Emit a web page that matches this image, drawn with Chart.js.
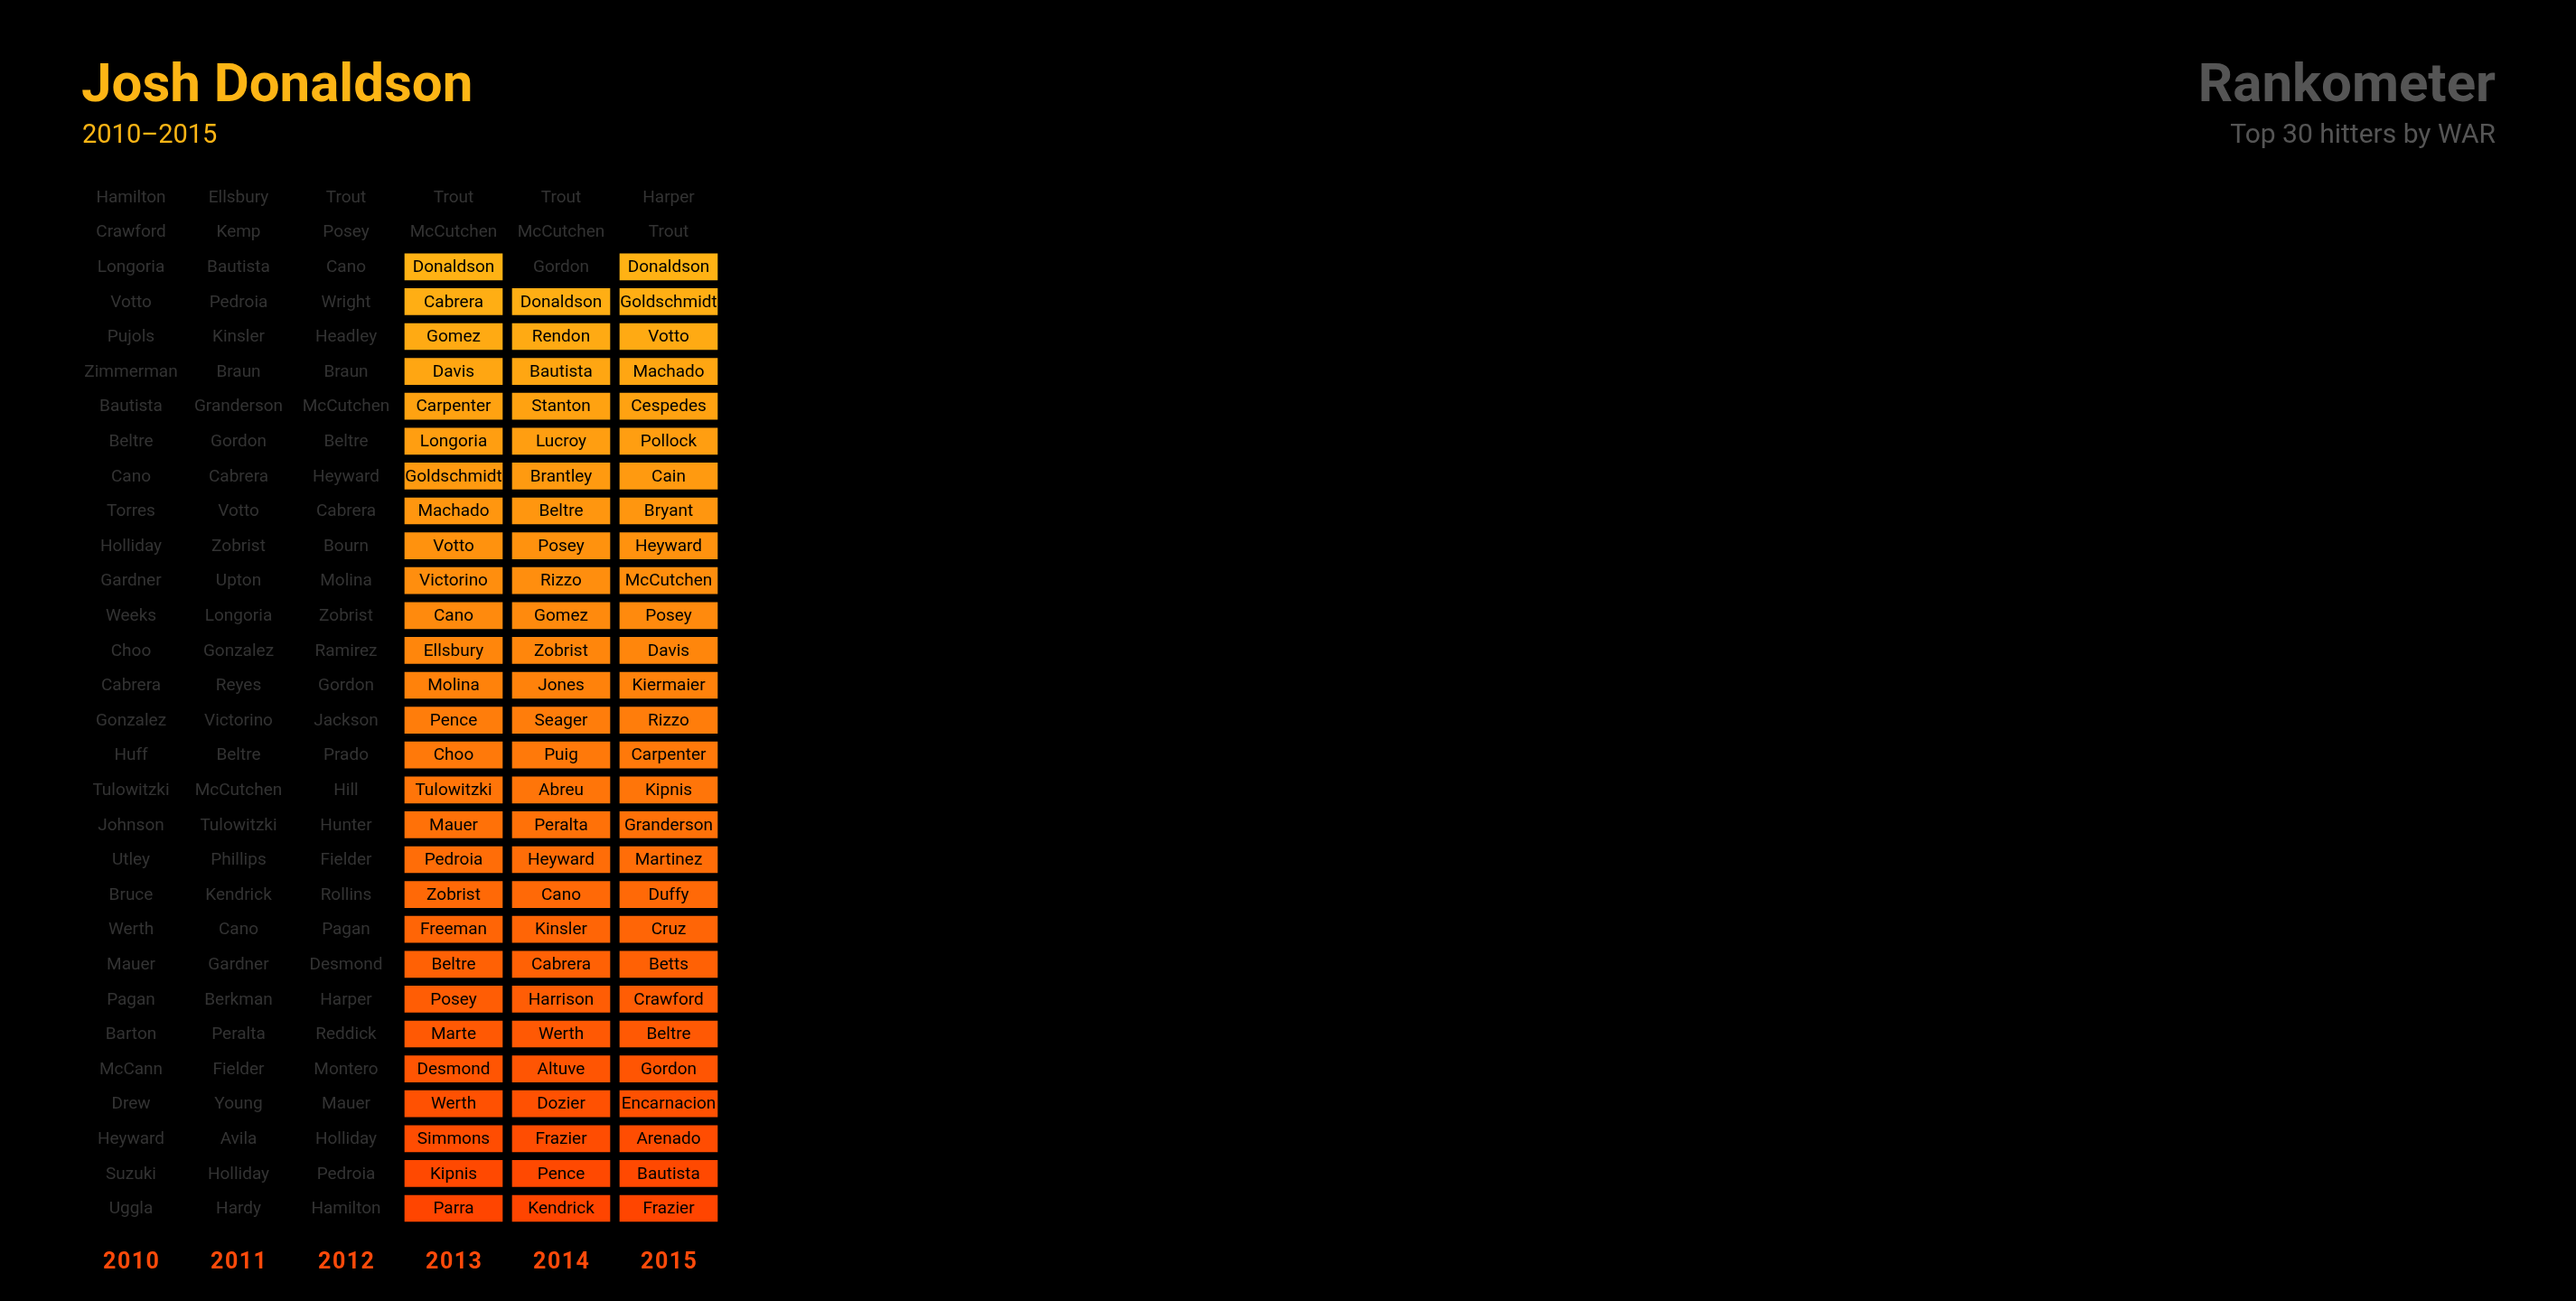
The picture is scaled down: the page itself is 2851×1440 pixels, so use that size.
<!DOCTYPE html>
<html><head><meta charset="utf-8">
<script src="https://cdn.jsdelivr.net/npm/chart.js@4.4.1/dist/chart.umd.min.js"></script>
<style>html,body{margin:0;padding:0;background:#000;overflow:hidden}#wrap{width:2851px;height:1440px;position:relative}</style>
</head><body><div id="wrap"><canvas id="c" width="2851" height="1440"></canvas></div>
<script>
const years = ["2010", "2011", "2012", "2013", "2014", "2015"];
const names2010 = ["Hamilton","Crawford","Longoria","Votto","Pujols","Zimmerman","Bautista","Beltre","Cano","Torres","Holliday","Gardner","Weeks","Choo","Cabrera","Gonzalez","Huff","Tulowitzki","Johnson","Utley","Bruce","Werth","Mauer","Pagan","Barton","McCann","Drew","Heyward","Suzuki","Uggla"];
const names2011 = ["Ellsbury","Kemp","Bautista","Pedroia","Kinsler","Braun","Granderson","Gordon","Cabrera","Votto","Zobrist","Upton","Longoria","Gonzalez","Reyes","Victorino","Beltre","McCutchen","Tulowitzki","Phillips","Kendrick","Cano","Gardner","Berkman","Peralta","Fielder","Young","Avila","Holliday","Hardy"];
const names2012 = ["Trout","Posey","Cano","Wright","Headley","Braun","McCutchen","Beltre","Heyward","Cabrera","Bourn","Molina","Zobrist","Ramirez","Gordon","Jackson","Prado","Hill","Hunter","Fielder","Rollins","Pagan","Desmond","Harper","Reddick","Montero","Mauer","Holliday","Pedroia","Hamilton"];
const names2013 = ["Trout","McCutchen","Donaldson","Cabrera","Gomez","Davis","Carpenter","Longoria","Goldschmidt","Machado","Votto","Victorino","Cano","Ellsbury","Molina","Pence","Choo","Tulowitzki","Mauer","Pedroia","Zobrist","Freeman","Beltre","Posey","Marte","Desmond","Werth","Simmons","Kipnis","Parra"];
const names2014 = ["Trout","McCutchen","Gordon","Donaldson","Rendon","Bautista","Stanton","Lucroy","Brantley","Beltre","Posey","Rizzo","Gomez","Zobrist","Jones","Seager","Puig","Abreu","Peralta","Heyward","Cano","Kinsler","Cabrera","Harrison","Werth","Altuve","Dozier","Frazier","Pence","Kendrick"];
const names2015 = ["Harper","Trout","Donaldson","Goldschmidt","Votto","Machado","Cespedes","Pollock","Cain","Bryant","Heyward","McCutchen","Posey","Davis","Kiermaier","Rizzo","Carpenter","Kipnis","Granderson","Martinez","Duffy","Cruz","Betts","Crawford","Beltre","Gordon","Encarnacion","Arenado","Bautista","Frazier"];
const namesByYear = [names2010, names2011, names2012, names2013, names2014, names2015];
const ranks = names2010.map((_, i) => i + 1);
const player = "Donaldson";
const titleText = "Josh Donaldson";
const subtitleText = "2010\u20132015";
const brandText = "Rankometer";
const brandSub = "Top 30 hitters by WAR";

const colTop = [255, 186, 22], colBot = [255, 69, 0];
function rankColor(r) {
  const t = (r - 1) / 29;
  const c = colTop.map((v, k) => Math.round(v + (colBot[k] - v) * t));
  return `rgb(${c[0]},${c[1]},${c[2]})`;
}
const startRank = namesByYear.map(n => { const i = n.indexOf(player); return i < 0 ? Infinity : i + 1; });
const half = 0.385;

const datasets = ranks.map(r => ({
  label: "rank " + r,
  data: years.map((y, i) => r >= startRank[i] ? [r - half, r + half] : null),
  backgroundColor: rankColor(r),
  borderWidth: 0,
  grouped: false,
  barPercentage: 0.913,
  categoryPercentage: 1
}));

const textPlugin = {
  id: 'texts',
  afterDatasetsDraw(chart) {
    const ctx = chart.ctx, xs = chart.scales.x, ys = chart.scales.y;
    ctx.save();
    ctx.textAlign = 'center';
    ctx.textBaseline = 'middle';
    ctx.font = '19px Roboto';
    namesByYear.forEach((names, i) => {
      const x = xs.getPixelForValue(i);
      names.forEach((n, k) => {
        const r = k + 1;
        ctx.fillStyle = r >= startRank[i] ? '#000' : '#333';
        ctx.fillText(n, x, ys.getPixelForValue(r) + 1);
      });
    });
    ctx.font = 'bold 25px Roboto';
    ctx.fillStyle = '#FF4A0A';
    ctx.letterSpacing = '1.5px';
    years.forEach((y, i) => {
      ctx.fillText(y, xs.getPixelForValue(i) + 0.75, chart.chartArea.bottom + 41);
    });
    ctx.letterSpacing = '0px';
    ctx.textBaseline = 'alphabetic';
    ctx.textAlign = 'left';
    ctx.fillStyle = '#FDB515';
    ctx.font = 'bold 60px Roboto';
    ctx.fillText(titleText, 90, 112);
    ctx.font = '29px Roboto';
    ctx.fillText(subtitleText, 91, 158);
    ctx.textAlign = 'right';
    ctx.fillStyle = '#555';
    ctx.font = 'bold 60px Roboto';
    ctx.fillText(brandText, 2762, 112);
    ctx.font = '30px Roboto';
    ctx.fillText(brandSub, 2762, 158);
    ctx.restore();
  }
};

new Chart(document.getElementById('c'), {
  type: 'bar',
  data: { labels: years, datasets },
  options: {
    responsive: false,
    animation: false,
    devicePixelRatio: 1,
    layout: { padding: { left: 85.5, right: 2051.5, top: 198.8, bottom: 83.2 } },
    plugins: { legend: { display: false }, tooltip: { enabled: false }, title: { display: false } },
    scales: {
      x: { type: 'category', display: false, offset: true },
      y: { type: 'linear', display: false, min: 0.5, max: 30.5, reverse: true }
    }
  },
  plugins: [textPlugin]
});
</script>
</body></html>
